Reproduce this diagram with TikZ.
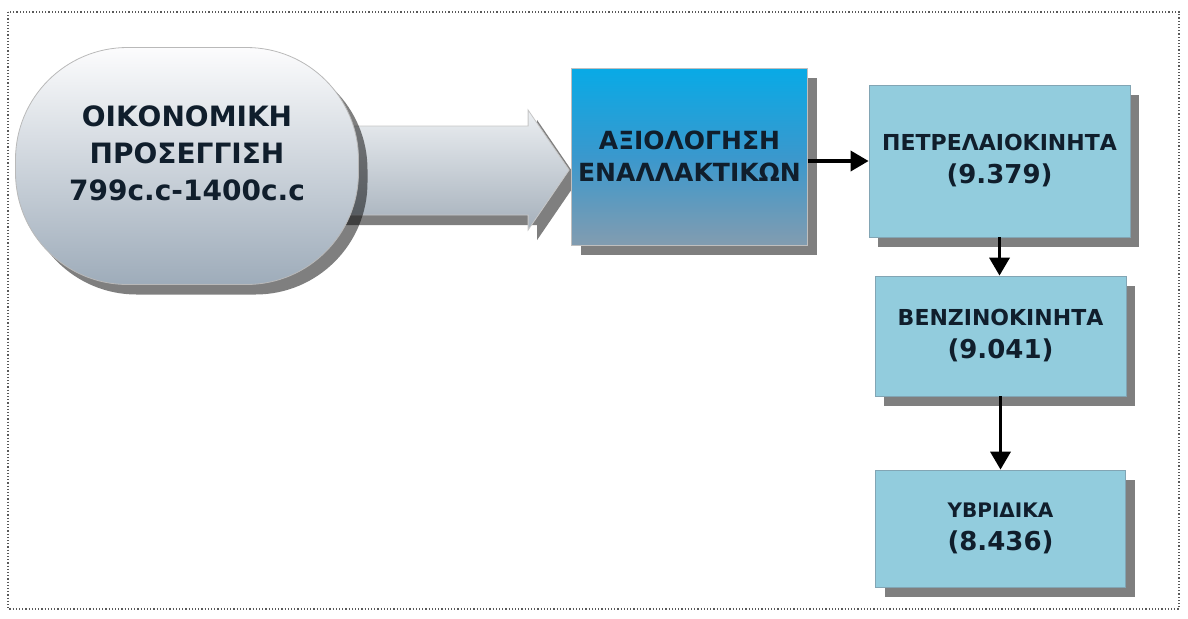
\documentclass[tikz,border=0pt]{standalone}
\usepackage{fontspec}
\setmainfont{DejaVu Sans}
\usetikzlibrary{shadows,arrows.meta,calc,backgrounds}
\definecolor{txt}{RGB}{16,30,44}
\definecolor{boxfill}{RGB}{146,204,221}
\definecolor{boxedge}{RGB}{130,165,180}
\definecolor{bluetop}{RGB}{8,170,230}
\definecolor{bluemid}{RGB}{58,152,205}
\definecolor{bluebot}{RGB}{130,156,176}
\definecolor{ovaltop}{RGB}{252,252,253}
\definecolor{ovalbot}{RGB}{158,172,186}
\definecolor{arrtop}{RGB}{236,239,242}
\definecolor{arrbot}{RGB}{165,176,187}
\begin{document}
\begin{tikzpicture}[x=0.5pt,y=-0.5pt,
  shad/.style={drop shadow={shadow xshift=4.5pt,shadow yshift=-5pt,fill=black,opacity=0.5}},
  ovalnode/.style={shad,draw=gray!55,line width=0.4pt,rounded corners=56pt,
    top color=ovaltop,bottom color=ovalbot,minimum width=171.5pt,minimum height=118.5pt,
    align=center,text=txt,font=\bfseries\fontsize{14}{18.5}\selectfont},
  bluenode/.style={shad,draw=gray!50,line width=0.4pt,
    top color=bluetop,bottom color=bluebot,middle color=bluemid,
    minimum width=115.5pt,minimum height=88.5pt,
    align=center,text=txt,font=\bfseries\fontsize{12.5}{16}\selectfont},
  carbox/.style={shad,draw=boxedge,line width=0.4pt,fill=boxfill,
    align=center,text=txt,font=\bfseries\fontsize{11}{16.5}\selectfont},
  conn/.style={line width=1.8pt,black,-{Triangle[length=9pt,width=10pt]}},
  frame/.style={draw=black!65,line width=0.6pt,densely dotted}
]
\useasboundingbox (0,0) rectangle (1188,618);
\draw[frame] (8,12) rectangle (1179,609);

\node[ovalnode] (oval) at (187,166) {ΟΙΚΟΝΟΜΙΚΗ\\ΠΡΟΣΕΓΓΙΣΗ\\799c.c-1400c.c\\[-6pt]};
\node[bluenode] (blue) at (689.5,156.5) {ΑΞΙΟΛΟΓΗΣΗ\\ΕΝΑΛΛΑΚΤΙΚΩΝ};
\node[carbox,minimum width=130.5pt,minimum height=76pt] (b1) at (999.5,161)
  {ΠΕΤΡΕΛΑΙΟΚΙΝΗΤΑ\\{\fontsize{13}{16.5}\selectfont (9.379)}};
\node[carbox,minimum width=125.5pt,minimum height=60pt] (b2) at (1000.5,336)
  {ΒΕΝΖΙΝΟΚΙΝΗΤΑ\\{\fontsize{13}{16.5}\selectfont (9.041)}};
\node[carbox,minimum width=125pt,minimum height=58.5pt] (b3) at (1000.5,528.5)
  {{\fontsize{10}{16.5}\selectfont ΥΒΡΙΔΙΚΑ}\\{\fontsize{13}{16.5}\selectfont (8.436)}};

\begin{scope}[on background layer]
  \coordinate (tip) at ($(blue.west)+(-2,13.5)$);
  \path[shad,top color=arrtop,bottom color=arrbot,draw=gray!45,line width=0.4pt]
    ($(oval.east)+(-30,-40)$) -- ($(tip)+(-41,-44)$) -- ($(tip)+(-41,-60)$) -- (tip)
    -- ($(tip)+(-41,60)$) -- ($(tip)+(-41,45)$) -- ($(oval.east)+(-30,49)$) -- cycle;
\end{scope}

\draw[conn] (blue.east |- b1.west) -- (b1.west);
\draw[conn] (b1.south) -- (b1.south |- b2.north);
\draw[conn] (b2.south) -- (b2.south |- b3.north);
\end{tikzpicture}
\end{document}
